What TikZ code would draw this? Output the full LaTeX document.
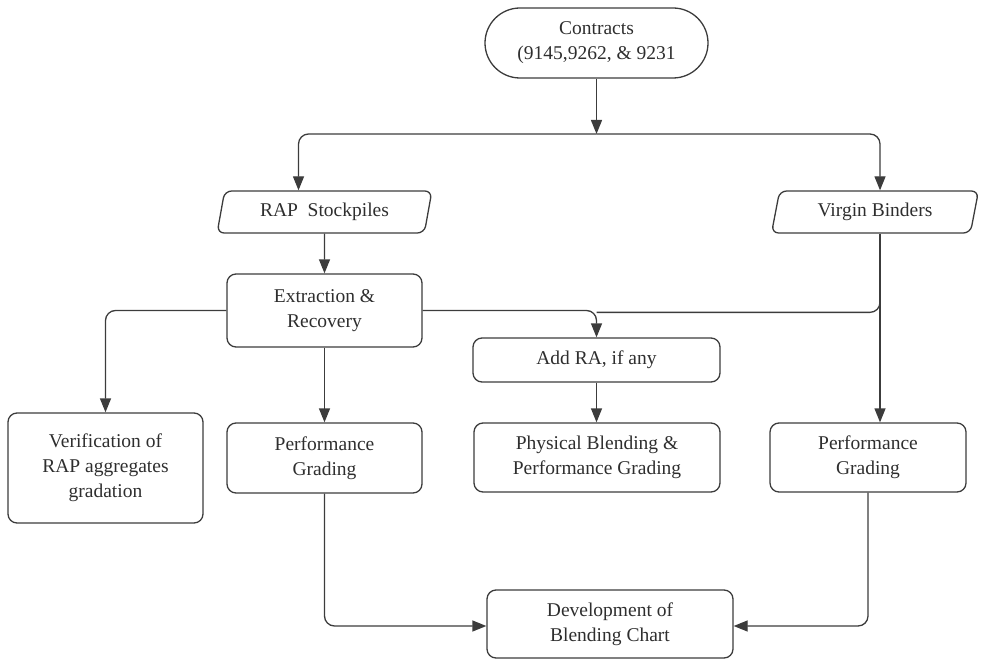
\documentclass[tikz,border=0pt]{standalone}
\usepackage{fontspec}
\setmainfont{Liberation Serif}
\usetikzlibrary{arrows.meta,shapes.geometric,calc}
\definecolor{ink}{HTML}{3C3C3C}
\definecolor{txt}{HTML}{2E2E2E}
\begin{document}
\begin{tikzpicture}[x=1pt,y=-1pt,
  every node/.style={font=\fontsize{19.5}{25}\selectfont, text=txt, align=center},
  box/.style={draw=ink, line width=1.3pt, rounded corners=9pt, inner sep=2pt},
  iobox/.style={draw=ink, line width=1.3pt, trapezium, trapezium left angle=77,
    trapezium right angle=103, trapezium stretches=true, rounded corners=7pt, inner sep=2pt},
  link/.style={draw=ink, line width=1.3pt, rounded corners=10pt},
  arr/.style={link, -{Triangle[length=14pt,width=11pt]}}]
\useasboundingbox (0,0) rectangle (981,660);

% start terminal
\node[box, rounded corners=35pt, minimum width=223pt, minimum height=70pt] (con) at (596.5,43)
  {Contracts\\(9145,9262, \& 9231};

% inputs
\node[iobox, minimum width=215pt, minimum height=42pt] (rap) at (324.5,212) {RAP\ \ Stockpiles};
\node[iobox, minimum width=207pt, minimum height=42pt] (vb) at (875,212) {Virgin Binders};

% processes
\node[box, minimum width=195pt, minimum height=73pt] (ext) at (324.5,310.5) {Extraction \&\\Recovery};
\node[box, minimum width=195pt, minimum height=110pt] (ver) at (105.5,468) {Verification of\\RAP aggregates\\gradation};
\node[box, minimum width=195pt, minimum height=70pt] (pg1) at (324.5,458) {Performance\\Grading};
\node[box, minimum width=247pt, minimum height=44pt] (add) at (596.5,360) {Add RA, if any};
\node[box, minimum width=246pt, minimum height=69pt] (phy) at (597,457.5) {Physical Blending \&\\Performance Grading};
\node[box, minimum width=196pt, minimum height=69pt] (pg2) at (868,457.5) {Performance\\Grading};
\node[box, minimum width=246pt, minimum height=68pt] (dev) at (610,624) {Development of\\Blending Chart};

% split below the contracts
\coordinate (split) at (596.5,134);
\draw[arr] (con.south) -- (split);
\draw[arr] (split) -| ([xshift=-26pt]rap.north);
\draw[arr] (split) -| ([xshift=5pt]vb.north);

% RAP branch
\draw[arr] (rap.south) -- (ext.north);
\draw[arr] (ext.west) -| (ver.north);
\draw[arr] (ext.south) -- (pg1.north);
\draw[arr] (ext.east) -| (add.north);

% binder branch
\coordinate (vbout) at ([xshift=5pt]vb.south);
\draw[arr] (vbout) -- (vbout |- pg2.north);
\draw[link] ($(vbout)+(0,60)$) |- ($(add.north)+(0,-25)$);
\draw[arr] (add.south) -- (add.south |- phy.north);

% blending chart
\draw[arr] (pg1.south) |- ([yshift=-2pt]dev.west);
\draw[arr] (pg2.south) |- ([yshift=-2pt]dev.east);
\end{tikzpicture}
\end{document}
